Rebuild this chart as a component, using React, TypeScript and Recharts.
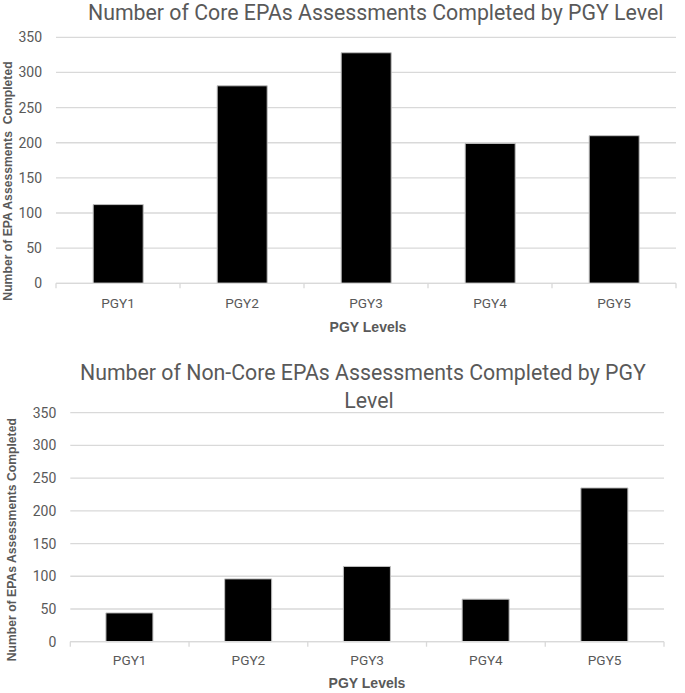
import React from 'react';
import { BarChart, Bar, XAxis, YAxis, CartesianGrid } from 'recharts';

const categories = ['PGY1', 'PGY2', 'PGY3', 'PGY4', 'PGY5'];
const coreValues = [112, 281, 328, 199, 210];
const nonCoreValues = [44, 96, 115, 65, 235];
const yTicks = [0, 50, 100, 150, 200, 250, 300, 350];

const coreData = categories.map((c, i) => ({ level: c, value: coreValues[i] }));
const nonCoreData = categories.map((c, i) => ({ level: c, value: nonCoreValues[i] }));

const GREY = '#595959';
const GRID = '#d9d9d9';
const TICK_FONT = 'Roboto, "Open Sans", sans-serif';
const BOLD_FONT = '"Liberation Sans", Arial, sans-serif';

function makeTick(labelDy: number, fallbackBw: number) {
  return (props: any) => {
    const { x, y, payload, index, width, visibleTicksCount } = props;
    const n = visibleTicksCount || categories.length;
    const bw = width ? width / n : fallbackBw;
    return (
      <g>
        <line x1={x - bw / 2} x2={x - bw / 2} y1={y} y2={y + 5} stroke={GRID} strokeWidth={1.3} />
        {index === n - 1 && (
          <line x1={x + bw / 2} x2={x + bw / 2} y1={y} y2={y + 5} stroke={GRID} strokeWidth={1.3} />
        )}
        <text x={x} y={y + labelDy} textAnchor="middle" fill={GREY} fontSize={13.6} fontFamily={TICK_FONT}>
          {payload.value}
        </text>
      </g>
    );
  };
}

const titleStyle = { fill: GREY, fontSize: 21.3, fontFamily: TICK_FONT } as const;

export default function App() {
  return (
    <div style={{ position: 'absolute', left: 0, top: 0, width: 685, height: 693, background: '#fff' }}>
      <BarChart
        width={685}
        height={340}
        data={coreData}
        margin={{ top: 37.3, right: 9, bottom: 0, left: 0 }}
        barCategoryGap="30%"
      >
        <CartesianGrid vertical={false} stroke={GRID} strokeWidth={1.3} />
        <XAxis
          dataKey="level"
          height={56.7}
          interval={0}
          axisLine={{ stroke: GRID, strokeWidth: 1.3 }}
          tickLine={false}
          tickSize={0}
          tickMargin={0}
          tick={makeTick(25, 124)}
          label={() => (
            <g>
              <text x={88} y={19.5} {...titleStyle}>
                Number of Core EPAs Assessments Completed by PGY Level
              </text>
              <text
                x={368}
                y={326.7}
                textAnchor="middle"
                dominantBaseline="central"
                fill={GREY}
                fontSize={14}
                fontWeight="bold"
                fontFamily={BOLD_FONT}
              >
                PGY Levels
              </text>
            </g>
          )}
        />
        <YAxis
          domain={[0, 350]}
          ticks={yTicks}
          interval={0}
          width={56}
          axisLine={false}
          tickLine={false}
          tickMargin={8}
          tick={{ fill: GREY, fontSize: 14, fontFamily: TICK_FONT }}
          label={() => (
            <text
              transform="translate(8,181) rotate(-90)"
              textAnchor="middle"
              dominantBaseline="central"
              fill={GREY}
              fontSize={12.2}
              fontWeight="bold"
              fontFamily={BOLD_FONT}
              style={{ whiteSpace: 'pre' }}
            >
              {'Number of EPA Assessments  Completed'}
            </text>
          )}
        />
        <Bar dataKey="value" fill="#000000" stroke="#bfbfbf" strokeWidth={1} isAnimationActive={false} />
      </BarChart>
      <BarChart
        width={685}
        height={353}
        data={nonCoreData}
        margin={{ top: 72.7, right: 21, bottom: 0, left: 0 }}
        barCategoryGap="30%"
      >
        <CartesianGrid vertical={false} stroke={GRID} strokeWidth={1.3} />
        <XAxis
          dataKey="level"
          height={51.3}
          interval={0}
          axisLine={{ stroke: GRID, strokeWidth: 1.3 }}
          tickLine={false}
          tickSize={0}
          tickMargin={0}
          tick={makeTick(23.5, 118.7)}
          label={() => (
            <g>
              <text x={80} y={40} {...titleStyle}>
                Number of Non-Core EPAs Assessments Completed by PGY
              </text>
              <text x={369} y={67.6} textAnchor="middle" {...titleStyle}>
                Level
              </text>
              <text
                x={367}
                y={343}
                textAnchor="middle"
                dominantBaseline="central"
                fill={GREY}
                fontSize={14}
                fontWeight="bold"
                fontFamily={BOLD_FONT}
              >
                PGY Levels
              </text>
            </g>
          )}
        />
        <YAxis
          domain={[0, 350]}
          ticks={yTicks}
          interval={0}
          width={70.3}
          axisLine={false}
          tickLine={false}
          tickMargin={8}
          tick={{ fill: GREY, fontSize: 14, fontFamily: TICK_FONT }}
          label={() => (
            <text
              transform="translate(11.7,199.7) rotate(-90)"
              textAnchor="middle"
              dominantBaseline="central"
              fill={GREY}
              fontSize={12.2}
              fontWeight="bold"
              fontFamily={BOLD_FONT}
            >
              Number of EPAs Assessments Completed
            </text>
          )}
        />
        <Bar dataKey="value" fill="#000000" stroke="#bfbfbf" strokeWidth={1} isAnimationActive={false} />
      </BarChart>
    </div>
  );
}
